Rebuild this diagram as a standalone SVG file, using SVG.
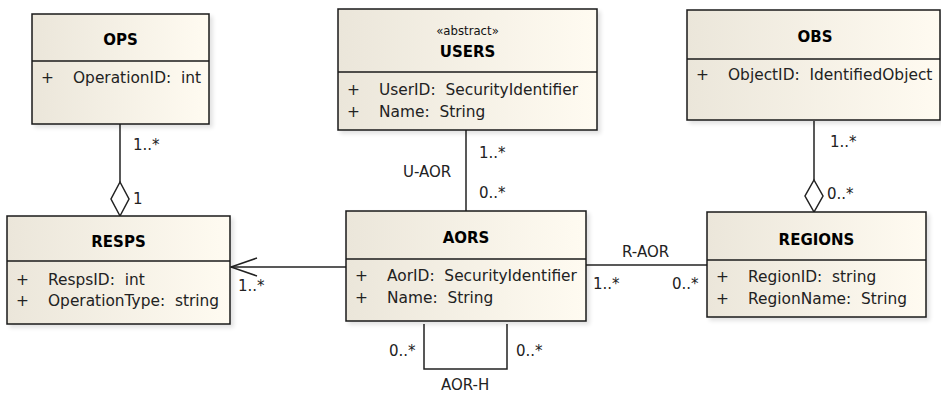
<svg xmlns="http://www.w3.org/2000/svg" width="941" height="393" viewBox="0 0 941 393" xml:space="preserve">
<defs>
<linearGradient id="g" x1="0" y1="0" x2="1" y2="0">
<stop offset="0" stop-color="#ebe6da"/>
<stop offset="1" stop-color="#fffbf1"/>
</linearGradient>
<filter id="sh" x="-5%" y="-5%" width="115%" height="115%">
<feGaussianBlur in="SourceAlpha" stdDeviation="2"/>
<feOffset dx="3" dy="3"/>
<feComponentTransfer><feFuncA type="linear" slope="0.12"/></feComponentTransfer>
<feMerge><feMergeNode/><feMergeNode in="SourceGraphic"/></feMerge>
</filter>
</defs>
<style>
text{white-space:pre}
.box{fill:url(#g);stroke:#1a1a1a;stroke-width:1.5;filter:url(#sh)}
.sep{stroke:#1a1a1a;stroke-width:1.5}
.t{font-family:"DejaVu Sans",sans-serif;font-weight:bold;font-size:15px;fill:#000;text-anchor:middle}
.st{font-family:"DejaVu Sans Condensed","DejaVu Sans",sans-serif;font-size:13px;fill:#111;text-anchor:middle}
.a{font-family:"DejaVu Sans",sans-serif;font-size:15.4px;fill:#222}
.l{font-family:"DejaVu Sans",sans-serif;font-size:15px;fill:#222}
.c{fill:none;stroke:#222;stroke-width:1.5}
.d{fill:#fff;stroke:#222;stroke-width:1.5}
</style>
<g id="connectors">
<line class="c" x1="120" y1="124" x2="120" y2="182"/>
<path class="d" d="M120,182 L129,199 L120,216 L111,199 Z"/>
<line class="c" x1="466" y1="130" x2="466" y2="211"/>
<line class="c" x1="814" y1="121" x2="814" y2="180"/>
<path class="d" d="M814,180 L823,196 L814,212 L805,196 Z"/>
<line class="c" x1="346" y1="267" x2="231" y2="267"/>
<polyline class="c" points="257,258 231,267 257,276"/>
<line class="c" x1="586" y1="265" x2="707" y2="265"/>
<polyline class="c" points="424,324 424,369 507,369 507,324"/>
<text class="l" x="133" y="150">1..*</text>
<text class="l" x="133" y="204">1</text>
<text class="l" x="403" y="177">U-AOR</text>
<text class="l" x="479" y="158">1..*</text>
<text class="l" x="479" y="198">0..*</text>
<text class="l" x="830" y="147">1..*</text>
<text class="l" x="827" y="199">0..*</text>
<text class="l" x="238" y="291">1..*</text>
<text class="l" x="622" y="257">R-AOR</text>
<text class="l" x="593" y="289">1..*</text>
<text class="l" x="672" y="289">0..*</text>
<text class="l" x="389" y="356">0..*</text>
<text class="l" x="516" y="356">0..*</text>
<text class="l" x="441" y="390">AOR-H</text>
</g>
<g id="OPS">
<rect class="box" x="32" y="14" width="177" height="110"/>
<line class="sep" x1="32" y1="61" x2="209" y2="61"/>
<text class="t" x="120.5" y="45">OPS</text>
<text class="a" x="41" y="83">+</text>
<text class="a" x="73" y="83">OperationID:  int</text>
</g>
<g id="USERS">
<rect class="box" x="338" y="9" width="259" height="121"/>
<line class="sep" x1="338" y1="72" x2="597" y2="72"/>
<text class="st" x="467.5" y="35">«abstract»</text>
<text class="t" x="467.5" y="57">USERS</text>
<text class="a" x="347" y="95">+</text>
<text class="a" x="379" y="95">UserID:  SecurityIdentifier</text>
<text class="a" x="347" y="117">+</text>
<text class="a" x="379" y="117">Name:  String</text>
</g>
<g id="OBS">
<rect class="box" x="687" y="10" width="253" height="110"/>
<line class="sep" x1="687" y1="59" x2="940" y2="59"/>
<text class="t" x="815" y="42">OBS</text>
<text class="a" x="696" y="80">+</text>
<text class="a" x="728" y="80">ObjectID:  IdentifiedObject</text>
</g>
<g id="RESPS">
<rect class="box" x="7" y="216" width="223" height="108"/>
<line class="sep" x1="7" y1="261" x2="230" y2="261"/>
<text class="t" x="118.5" y="247">RESPS</text>
<text class="a" x="16" y="285">+</text>
<text class="a" x="48" y="285">RespsID:  int</text>
<text class="a" x="16" y="306">+</text>
<text class="a" x="48" y="306">OperationType:  string</text>
</g>
<g id="AORS">
<rect class="box" x="346" y="211" width="240" height="110"/>
<line class="sep" x1="346" y1="259" x2="586" y2="259"/>
<text class="t" x="466" y="243">AORS</text>
<text class="a" x="355" y="281">+</text>
<text class="a" x="387" y="281">AorID:  SecurityIdentifier</text>
<text class="a" x="355" y="303">+</text>
<text class="a" x="387" y="303">Name:  String</text>
</g>
<g id="REGIONS">
<rect class="box" x="707" y="212" width="219" height="105"/>
<line class="sep" x1="707" y1="260" x2="926" y2="260"/>
<text class="t" x="816.5" y="245">REGIONS</text>
<text class="a" x="716" y="282">+</text>
<text class="a" x="748" y="282">RegionID:  string</text>
<text class="a" x="716" y="304">+</text>
<text class="a" x="748" y="304">RegionName:  String</text>
</g>
</svg>
